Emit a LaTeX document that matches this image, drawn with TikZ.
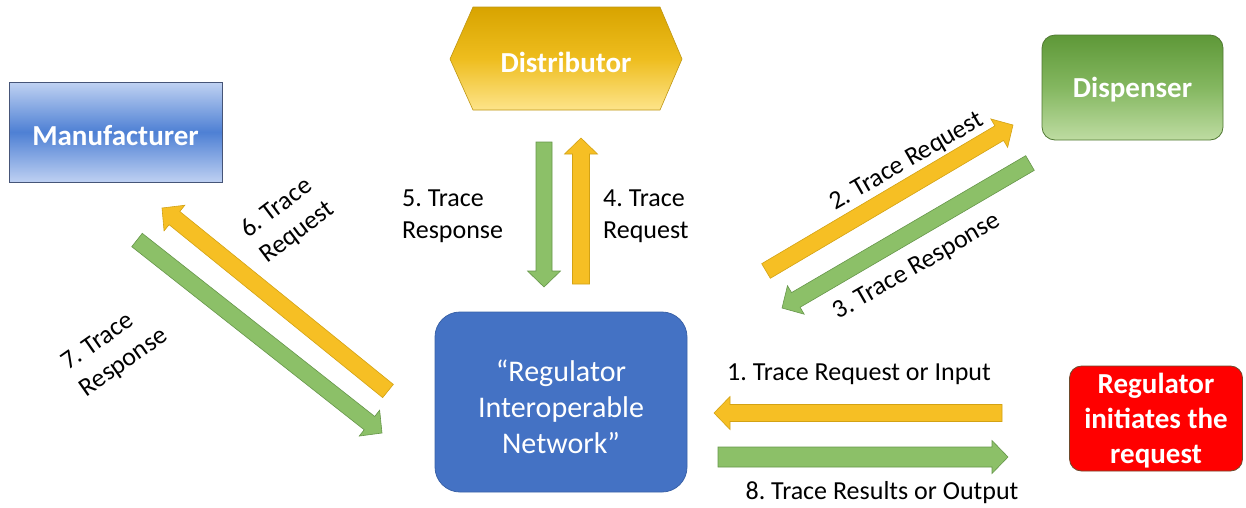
\documentclass[tikz,border=0pt]{standalone}
\usepackage{fontspec}
\setmainfont{Carlito}
\usetikzlibrary{calc}
\frenchspacing
\definecolor{arrY}{HTML}{F6BF24}
\definecolor{arrYd}{HTML}{D3A214}
\definecolor{arrG}{HTML}{8CC068}
\definecolor{arrGd}{HTML}{66964A}
\definecolor{netB}{HTML}{4472C4}
\definecolor{netBd}{HTML}{3A62A8}
\newcommand\blockarrow[4]{% style, from, to, shaft half-width
  \coordinate (hb) at ($(#3)!16pt!(#2)$);
  \filldraw[#1] ($(#2)!#4!90:(#3)$) -- ($(hb)!#4!90:(#3)$) -- ($(hb)!16.5pt!90:(#3)$) -- (#3)
    -- ($(hb)!16.5pt!-90:(#3)$) -- ($(hb)!#4!-90:(#3)$) -- ($(#2)!#4!-90:(#3)$) -- cycle;}
\tikzset{
  yarrow/.style={fill=arrY, draw=arrYd, line width=0.6pt, line join=miter},
  garrow/.style={fill=arrG, draw=arrGd, line width=0.6pt, line join=miter},
  lbl/.style={text=black, font=\fontsize{26}{32}\selectfont, inner sep=0pt},
  boxtxt/.style={text=white, font=\bfseries\fontsize{29}{35}\selectfont, align=center, inner sep=0pt},
}
\begin{document}
\begin{tikzpicture}[x=1pt,y=-1pt]
\useasboundingbox (0,0) rectangle (1246,507);
% boxes
\node[rectangle, minimum width=213pt, minimum height=100pt, inner sep=0pt,
      top color={rgb,255:red,192;green,210;blue,242}, bottom color={rgb,255:red,190;green,208;blue,242},
      middle color={rgb,255:red,78;green,128;blue,212}, draw={rgb,255:red,70;green,85;blue,120}, line width=0.8pt]
      (man) at (115.5,132) {};
\node[boxtxt] (mantxt) at ($(man.center)+(0,4)$) {Manufacturer};
\shade[top color={rgb,255:red,216;green,164;blue,0}, bottom color={rgb,255:red,253;green,228;blue,138},
       middle color={rgb,255:red,238;green,189;blue,30}, draw={rgb,255:red,190;green,150;blue,20}, line width=0.6pt]
  (450,59) -- (473,7) -- (660,7) -- (682,59) -- (660,110) -- (473,110) -- cycle;
\node[boxtxt] (dist) at (566,62) {Distributor};
\node[rectangle, rounded corners=13pt, minimum width=181pt, minimum height=105pt, inner sep=0pt,
      top color={rgb,255:red,94;green,152;blue,56}, bottom color={rgb,255:red,190;green,220;blue,162},
      middle color={rgb,255:red,132;green,183;blue,96}, draw={rgb,255:red,80;green,120;blue,50}, line width=0.8pt]
      (disp) at (1132.5,87.5) {};
\node[boxtxt] (disptxt) at ($(disp.center)+(0,2)$) {Dispenser};
\node[rectangle, rounded corners=25pt, minimum width=252pt, minimum height=180pt, inner sep=0pt,
      fill=netB, draw=netBd, line width=0.8pt] (net) at (561,402) {};
\node[text=white, align=center, inner sep=0pt, font=\fontsize{30}{36}\selectfont] (nettxt)
      at ($(net.center)+(0,5)$) {“Regulator\\Interoperable\\Network”};
\node[rectangle, rounded corners=12pt, minimum width=173pt, minimum height=105pt, inner sep=0pt,
      fill=red, draw={rgb,255:red,110;green,75;blue,45}, line width=0.8pt] (reg) at (1156,418.5) {};
\node[boxtxt] (regtxt) at ($(reg.center)+(0,2)$) {Regulator\\initiates the\\request};
% arrow end points
\coordinate (a1s) at (1002,413); \coordinate (a1e) at (714,413);
\coordinate (a8s) at (718,457);  \coordinate (a8e) at (1008,457);
\coordinate (a4s) at (581,284);  \coordinate (a4e) at (581,138);
\coordinate (a5s) at (544,142);  \coordinate (a5e) at (544,287);
\coordinate (a2s) at (766,271);  \coordinate (a2e) at (1013,125);
\coordinate (a3s) at (1030,163); \coordinate (a3e) at (782,308);
\coordinate (a6s) at (388,391);  \coordinate (a6e) at (162,208);
\coordinate (a7s) at (137,240);  \coordinate (a7e) at (382,433);
\blockarrow{yarrow}{a1s}{a1e}{8.5pt}
\blockarrow{garrow}{a8s}{a8e}{10pt}
\blockarrow{yarrow}{a4s}{a4e}{8.5pt}
\blockarrow{garrow}{a5s}{a5e}{8pt}
\blockarrow{yarrow}{a2s}{a2e}{8.5pt}
\blockarrow{garrow}{a3s}{a3e}{8.5pt}
\blockarrow{yarrow}{a6s}{a6e}{8.5pt}
\blockarrow{garrow}{a7s}{a7e}{8.5pt}
% labels
\node[lbl] (l1) at (859,374) {1. Trace Request or Input};
\node[lbl] (l8) at (882,493) {8. Trace Results or Output};
\node[lbl, anchor=west, align=left] (l5) at (402,216) {5. Trace\\Response};
\node[lbl, anchor=west, align=left] (l4) at (603,216) {4. Trace\\Request};
\node[lbl, rotate=30] (l2) at (907,162) {2. Trace Request};
\node[lbl, rotate=30] (l3) at (917,267) {3. Trace Response};
\node[lbl, rotate=37, align=left] (l6) at (288,220) {6. Trace\\Request};
\node[lbl, rotate=35, align=left] (l7) at (115,350) {7. Trace\\Response};
\end{tikzpicture}
\end{document}
